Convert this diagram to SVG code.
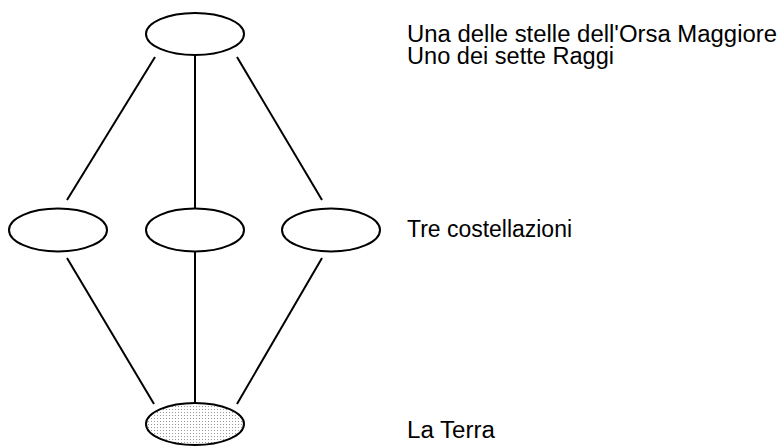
<svg xmlns="http://www.w3.org/2000/svg" width="779" height="446" viewBox="0 0 779 446">
<style>
.n{fill:#fff;stroke:#000;stroke-width:2}
.e{stroke:#000;stroke-width:2;fill:none}
.t{font-family:"Liberation Sans",Arial,sans-serif;font-size:23px;fill:#000}
</style>
<defs>
<pattern id="dots" width="3" height="3" patternUnits="userSpaceOnUse">
<rect width="3" height="3" fill="#fff"/>
<rect x="1" y="1" width="1" height="1" fill="#999"/>
</pattern>
</defs>
<rect width="779" height="446" fill="#fff"/>
<g id="edges">
<line class="e" x1="155" y1="57" x2="67" y2="200"/>
<line class="e" x1="195" y1="55" x2="195" y2="208"/>
<line class="e" x1="237" y1="57" x2="322" y2="200"/>
<line class="e" x1="67" y1="258" x2="154" y2="404"/>
<line class="e" x1="195" y1="252" x2="195" y2="403"/>
<line class="e" x1="322" y1="258" x2="237" y2="404"/>
</g>
<g id="top"><ellipse class="n" cx="195" cy="34" rx="49" ry="21"/></g>
<g id="mid1"><ellipse class="n" cx="58" cy="230" rx="49" ry="21.5"/></g>
<g id="mid2"><ellipse class="n" cx="195" cy="230" rx="49" ry="21.5"/></g>
<g id="mid3"><ellipse class="n" cx="331" cy="230" rx="49" ry="21.5"/></g>
<g id="bottom"><ellipse class="n" cx="195" cy="424" rx="49" ry="21" style="fill:url(#dots)"/></g>
<g id="labels">
<text class="t" x="407" y="42" textLength="370" lengthAdjust="spacingAndGlyphs">Una delle stelle dell'Orsa Maggiore</text>
<text class="t" x="407" y="64" textLength="207" lengthAdjust="spacingAndGlyphs">Uno dei sette Raggi</text>
<text class="t" x="407" y="237" textLength="165" lengthAdjust="spacingAndGlyphs">Tre costellazioni</text>
<text class="t" x="407" y="438" textLength="88" lengthAdjust="spacingAndGlyphs">La Terra</text>
</g>
</svg>
